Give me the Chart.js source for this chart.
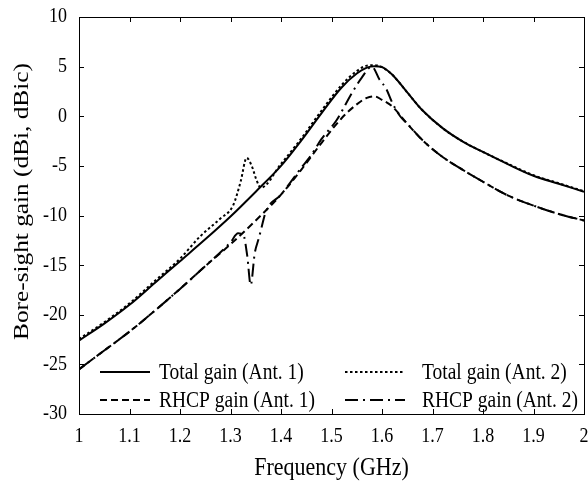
<!DOCTYPE html>
<html>
<head>
<meta charset="utf-8">
<script src="https://cdn.jsdelivr.net/npm/chart.js@4.4.1/dist/chart.umd.min.js"></script>
<style>
  html, body { margin: 0; padding: 0; background: #fff; }
  #wrap { width: 588px; height: 483px; }
</style>
</head>
<body>
<div id="wrap"><canvas id="c" width="588" height="483"></canvas></div>
<script>
// ---- data ----
const seriesLabels = ['Total gain (Ant. 1)', 'Total gain (Ant. 2)', 'RHCP gain (Ant. 1)', 'RHCP gain (Ant. 2)'];

const freqTotal1 = [1.00,1.05,1.10,1.15,1.20,1.25,1.30,1.35,1.40,1.44,1.48,1.52,1.55,1.57,1.585,1.60,1.62,1.65,1.68,1.72,1.76,1.80,1.85,1.90,1.95,2.00];
const gainTotal1 = [-22.6,-20.9,-19.0,-16.8,-14.6,-12.4,-10.1,-7.6,-5.0,-2.45,0.3,2.9,4.3,4.9,5.05,4.95,4.2,2.4,0.6,-1.2,-2.55,-3.6,-4.85,-6.0,-6.8,-7.6];

const freqTotal2 = [1.00,1.05,1.10,1.15,1.20,1.24,1.28,1.305,1.32,1.332,1.342,1.352,1.36,1.40,1.44,1.48,1.52,1.55,1.57,1.585,1.60,1.62,1.65,1.68,1.72,1.76,1.80,1.85,1.90,1.95,2.00];
const gainTotal2 = [-22.45,-20.75,-18.85,-16.6,-14.35,-12.1,-10.3,-9.0,-6.6,-4.2,-5.0,-6.5,-7.2,-4.8,-2.25,0.55,3.15,4.55,5.1,5.15,4.95,4.2,2.4,0.6,-1.2,-2.55,-3.6,-4.8,-5.95,-6.75,-7.55];

const freqRhcp1 = [1.00,1.05,1.10,1.15,1.20,1.25,1.30,1.35,1.40,1.44,1.48,1.52,1.55,1.57,1.585,1.60,1.62,1.65,1.68,1.72,1.76,1.80,1.85,1.90,1.95,2.00];
const gainRhcp1 = [-25.5,-23.6,-21.7,-19.6,-17.4,-15.1,-12.9,-10.5,-7.9,-5.4,-2.7,-0.2,1.2,1.85,2.0,1.65,1.0,-0.75,-2.4,-4.1,-5.4,-6.6,-8.0,-9.0,-9.85,-10.5];

const freqRhcp2 = [1.00,1.05,1.10,1.15,1.20,1.25,1.30,1.315,1.325,1.333,1.34,1.348,1.356,1.362,1.37,1.40,1.44,1.46,1.48,1.51,1.54,1.56,1.58,1.595,1.608,1.62,1.636,1.65,1.68,1.72,1.76,1.80,1.85,1.90,1.95,2.00];
const gainRhcp2 = [-25.5,-23.6,-21.7,-19.6,-17.4,-15.1,-12.7,-11.8,-11.9,-14.0,-17.0,-13.8,-12.3,-11.1,-9.6,-7.9,-5.2,-3.9,-2.3,-0.4,2.3,3.9,5.0,3.7,2.8,1.4,0.0,-0.75,-2.4,-4.1,-5.4,-6.6,-8.0,-9.0,-9.85,-10.5];

const xTickLabels = ['1','1.1','1.2','1.3','1.4','1.5','1.6','1.7','1.8','1.9','2'];
const yTickLabels = ['-30','-25','-20','-15','-10','-5','0','5','10'];

const xTitle = 'Frequency (GHz)';
const yTitle = 'Bore-sight gain (dBi, dBic)';

// ---- styling ----
const FONT = '"Liberation Serif", "Times New Roman", serif';
const SY = 1.15; // the reference text is slightly taller than wide
const dashes = [[], [2.5, 2.5], [7, 4], [13, 5, 2, 5]];

function pts(fs, vs) { return fs.map((f, i) => ({ x: f, y: vs[i] })); }
const seriesData = [pts(freqTotal1, gainTotal1), pts(freqTotal2, gainTotal2), pts(freqRhcp1, gainRhcp1), pts(freqRhcp2, gainRhcp2)];

const datasets = seriesData.map((d, i) => ({
  label: seriesLabels[i],
  data: d,
  borderColor: '#000',
  borderWidth: 2,
  borderDash: dashes[i],
  pointRadius: 0,
  fill: false,
  cubicInterpolationMode: 'monotone'
}));

function txt(ctx, s, x, y, align) {
  ctx.save();
  ctx.translate(x, y);
  ctx.scale(1, SY);
  ctx.textAlign = align;
  ctx.textBaseline = 'middle';
  ctx.fillText(s, 0, 0);
  ctx.restore();
}

const framePlugin = {
  id: 'frame',
  afterDatasetsDraw(chart) {
    const { ctx, chartArea: a, scales } = chart;
    ctx.save();
    ctx.strokeStyle = '#000';
    ctx.fillStyle = '#000';
    ctx.lineWidth = 1;
    ctx.setLineDash([]);
    ctx.strokeRect(Math.round(a.left) + 0.5, Math.round(a.top) + 0.5, Math.round(a.right - a.left), Math.round(a.bottom - a.top));
    const tl = 5;
    ctx.beginPath();
    scales.x.ticks.forEach(t => {
      const px = Math.round(scales.x.getPixelForValue(t.value)) + 0.5;
      ctx.moveTo(px, a.bottom); ctx.lineTo(px, a.bottom - tl);
      ctx.moveTo(px, a.top); ctx.lineTo(px, a.top + tl);
    });
    scales.y.ticks.forEach(t => {
      const py = Math.round(scales.y.getPixelForValue(t.value)) + 0.5;
      ctx.moveTo(a.left, py); ctx.lineTo(a.left + tl, py);
      ctx.moveTo(a.right, py); ctx.lineTo(a.right - tl, py);
    });
    ctx.stroke();

    // tick labels
    ctx.font = '18px ' + FONT;
    scales.x.ticks.forEach((t, i) => {
      txt(ctx, xTickLabels[i], scales.x.getPixelForValue(t.value), a.bottom + 23, 'center');
    });
    scales.y.ticks.forEach((t, i) => {
      txt(ctx, yTickLabels[i], a.left - 12, scales.y.getPixelForValue(t.value), 'right');
    });

    // axis titles
    ctx.font = '22px ' + FONT;
    txt(ctx, xTitle, (a.left + a.right) / 2, a.bottom + 54, 'center');
    ctx.save();
    ctx.translate(22, (a.top + a.bottom) / 2 - 14);
    ctx.rotate(-Math.PI / 2);
    ctx.scale(SY, 1);
    ctx.textAlign = 'center';
    ctx.textBaseline = 'middle';
    ctx.fillText(yTitle, 0, 0);
    ctx.restore();

    // legend (two columns, inside the plot)
    const rows = [a.bottom - 42, a.bottom - 14];
    const cols = [{ s: a.left + 21, e: a.left + 71, t: a.left + 80 }, { s: a.left + 266, e: a.left + 326, t: a.left + 343 }];
    const order = [[0, 0, 0], [1, 0, 1], [2, 1, 0], [3, 1, 1]]; // dataset, row, col
    ctx.font = '19.5px ' + FONT;
    order.forEach(([di, r, c]) => {
      const y = rows[r];
      ctx.beginPath();
      ctx.setLineDash(dashes[di]);
      ctx.lineWidth = 2;
      ctx.moveTo(cols[c].s, y);
      ctx.lineTo(cols[c].e, y);
      ctx.stroke();
      ctx.setLineDash([]);
      txt(ctx, seriesLabels[di], cols[c].t, y + 1, 'left');
    });
    ctx.restore();
  }
};

new Chart(document.getElementById('c'), {
  type: 'line',
  data: { datasets },
  options: {
    responsive: false,
    devicePixelRatio: 1,
    animation: false,
    layout: { padding: { top: 17, right: 4, left: 0, bottom: 0 } },
    plugins: { legend: { display: false }, tooltip: { enabled: false } },
    scales: {
      x: {
        type: 'linear', min: 1, max: 2,
        grid: { display: false },
        border: { display: false },
        ticks: { stepSize: 0.1, display: false },
        afterFit: s => { s.height = 69; s.paddingLeft = 0; s.paddingRight = 0; }
      },
      y: {
        type: 'linear', min: -30, max: 10,
        grid: { display: false },
        border: { display: false },
        ticks: { stepSize: 5, display: false },
        afterFit: s => { s.width = 79; s.paddingTop = 0; s.paddingBottom = 0; }
      }
    }
  },
  plugins: [framePlugin]
});
</script>
</body>
</html>
